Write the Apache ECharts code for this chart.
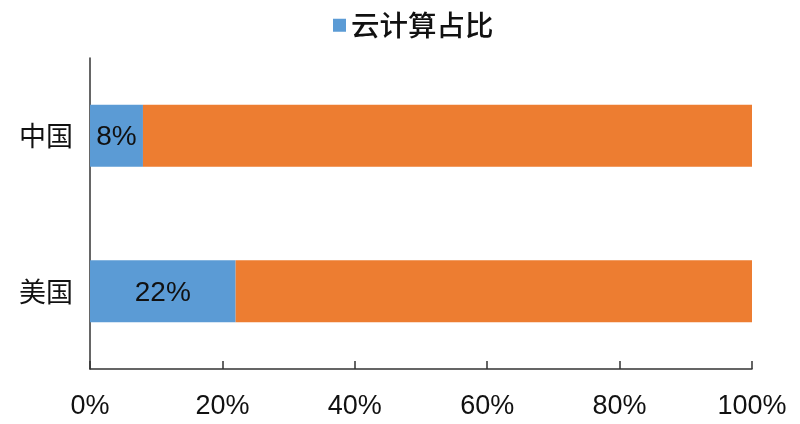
<!DOCTYPE html>
<html><head><meta charset="utf-8">
<script src="https://cdn.jsdelivr.net/npm/echarts@6/dist/echarts.min.js"></script>
<style>html,body{margin:0;padding:0;background:#fff}#c{width:800px;height:424px}</style>
</head><body><div id="c"></div>
<script>
const categories = ['美国', '中国'];
const cloudShare = [22, 8];
const otherShare = [78, 92];
const xTicks = [0, 20, 40, 60, 80, 100];

const chart = echarts.init(document.getElementById('c'));
const font = '"Noto Sans CJK SC", "Liberation Sans", Arial, sans-serif';
const latin = '"Liberation Sans", Arial, sans-serif';
chart.setOption({
  animation: false,
  textStyle: { fontFamily: font },
  legend: {
    data: ['云计算占比'], top: 6, left: 328,
    itemWidth: 13, itemHeight: 13, itemGap: 6, icon: 'rect',
    textStyle: { fontSize: 28.5, color: '#111', fontFamily: font, fontWeight: 500 }
  },
  grid: { left: 90, right: 48, top: 58, bottom: 55, containLabel: false },
  xAxis: {
    type: 'value', min: xTicks[0], max: xTicks[xTicks.length - 1], interval: 20,
    axisLine: { show: true, lineStyle: { color: '#333', width: 1.5 } },
    axisTick: { show: true, inside: true, length: 8, lineStyle: { color: '#333', width: 1.5 } },
    splitLine: { show: false },
    axisLabel: { formatter: '{value}%', fontSize: 27, color: '#111', margin: 24, fontFamily: latin }
  },
  yAxis: {
    type: 'category', data: categories,
    axisLine: { show: true, lineStyle: { color: '#333', width: 1.5 } },
    axisTick: { show: false },
    axisLabel: { fontSize: 27, color: '#111', margin: 17 }
  },
  series: [
    {
      name: '云计算占比', type: 'bar', stack: 't', data: cloudShare, barWidth: '40%',
      itemStyle: { color: '#5B9BD5' },
      label: { show: true, position: 'inside', offset: [0, 2], formatter: '{c}%', fontSize: 28, color: '#111', fontFamily: latin }
    },
    {
      name: '其他', type: 'bar', stack: 't', data: otherShare, barWidth: '40%',
      itemStyle: { color: '#ED7D31' }
    }
  ]
});
</script></body></html>
